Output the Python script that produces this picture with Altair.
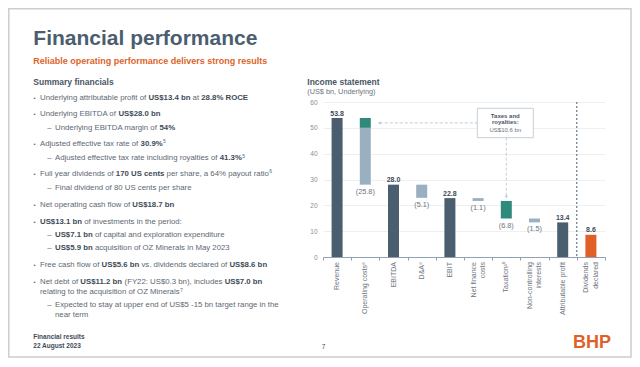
import altair as alt
import pandas as pd

FONT = "Liberation Sans"

# ---------------- chart data ----------------
categories = ["Revenue", "Operating costs", "EBITDA", "D&A", "EBIT",
              "Net finance costs", "Taxation", "Non-controlling interests",
              "Attributable profit", "Dividends declared"]
axis_labels = ["Revenue", "Operating costs⁸", "EBITDA", "D&A⁹", "EBIT",
               "Net finance|costs", "Taxation¹⁰", "Non-controlling|interests",
               "Attributable profit", "Dividends|declared"]
values = [53.8, -25.8, 28.0, -5.1, 22.8, -1.1, -6.8, -1.5, 13.4, 8.6]
kinds = ["total", "cost", "total", "cost", "total", "cost", "tax", "cost", "total", "dividend"]
royalties_in_costs = 3.8
taxes_and_royalties = 10.6
y_ticks = [0, 10, 20, 30, 40, 50, 60]

# ---------------- slide text ----------------
title_text = "Financial performance"
subtitle_text = "Reliable operating performance delivers strong results"
left_heading = "Summary financials"
chart_heading = "Income statement"
chart_subheading = "(US$ bn, Underlying)"
footer_lines = ["Financial results", "22 August 2023"]
page_number = "7"
logo_text = "BHP"
annotation_bold = ["Taxes and", "royalties:"]
annotation_normal = "US$%.1f bn" % taxes_and_royalties

summary = [
    ("bullet", [("Underlying attributable profit of ", "n"), ("US$13.4 bn", "b"), (" at ", "n"), ("28.8% ROCE", "b")]),
    ("bullet", [("Underlying EBITDA of ", "n"), ("US$28.0 bn", "b")]),
    ("dash", [("Underlying EBITDA margin of ", "n"), ("54%", "b")]),
    ("bullet", [("Adjusted effective tax rate of ", "n"), ("30.9%", "b"), ("5", "s")]),
    ("dash", [("Adjusted effective tax rate including royalties of ", "n"), ("41.3%", "b"), ("5", "s")]),
    ("bullet", [("Full year dividends of ", "n"), ("170 US cents", "b"), (" per share, a 64% payout ratio", "n"), ("6", "s")]),
    ("dash", [("Final dividend of 80 US cents per share", "n")]),
    ("bullet", [("Net operating cash flow of ", "n"), ("US$18.7 bn", "b")]),
    ("bullet", [("US$13.1 bn", "b"), (" of investments in the period:", "n")]),
    ("dash", [("US$7.1 bn", "b"), (" of capital and exploration expenditure", "n")]),
    ("dash", [("US$5.9 bn", "b"), (" acquisition of OZ Minerals in May 2023", "n")]),
    ("bullet", [("Free cash flow of ", "n"), ("US$5.6 bn", "b"), (" vs. dividends declared of ", "n"), ("US$8.6 bn", "b")]),
    ("bullet", [("Net debt of ", "n"), ("US$11.2 bn", "b"), (" (FY22: US$0.3 bn), includes ", "n"), ("US$7.0 bn", "b")]),
    ("cont1", [("relating to the acquisition of OZ Minerals", "n"), ("7", "s")]),
    ("dash", [("Expected to stay at upper end of US$5 -15 bn target range in the", "n")]),
    ("cont2", [("near term", "n")]),
]

# ---------------- layout / style ----------------
X0, Y0 = 323, 102          # page position of the plot area
W, H = 282, 155
SVG_W, SVG_H = 624, 350
PAD = {"left": X0 - 8, "top": Y0 - 8, "right": SVG_W - (X0 - 8) - W, "bottom": SVG_H - (Y0 - 8) - H}

DARK = "#4b5e6f"
LIGHT = "#9ab0c1"
TEAL = "#2f8a7b"
ORANGE = "#e0602a"
TITLE_C = "#4b5e70"
TEXT_C = "#5d6872"
BOLD_C = "#3e4b57"
AXIS_C = "#8fa1b1"

summary_y = [98.3, 114.3, 128.3, 144, 158.3, 174, 187.7, 205, 222, 235, 248,
             264.7, 282, 292.3, 305.3, 315.3]
BODY = 7.8
SUP = 5.0


def _tbl(upper, lower, extra):
    t = {}
    for ch, w in zip("ABCDEFGHIJKLMNOPQRSTUVWXYZ", upper):
        t[ch] = w
    for ch, w in zip("abcdefghijklmnopqrstuvwxyz", lower):
        t[ch] = w
    for d in "0123456789":
        t[d] = 556
    t.update(extra)
    return t


REG = _tbl([667, 667, 722, 722, 667, 611, 778, 722, 278, 500, 667, 556, 833, 722, 778, 667, 778, 722, 667, 611, 722, 667, 944, 667, 667, 611],
           [556, 556, 500, 556, 556, 278, 556, 556, 222, 222, 500, 222, 833, 556, 556, 556, 556, 333, 500, 278, 556, 500, 722, 500, 500, 500],
           {" ": 278, "$": 556, "%": 889, "&": 667, "(": 333, ")": 333, ",": 278, "-": 333, ".": 278, "/": 278, ":": 278, "–": 556})
BOLD = _tbl([722, 722, 722, 722, 667, 611, 778, 722, 278, 556, 722, 611, 833, 722, 778, 667, 778, 722, 667, 611, 722, 667, 944, 667, 667, 611],
            [556, 611, 556, 611, 556, 333, 611, 611, 278, 278, 556, 278, 889, 611, 611, 611, 611, 389, 556, 333, 611, 556, 778, 556, 556, 500],
            {" ": 278, "$": 556, "%": 889, "&": 722, "(": 333, ")": 333, ",": 278, "-": 333, ".": 278, "/": 278, ":": 333, "–": 556})


def text_width(s, bold, size):
    tbl = BOLD if bold else REG
    return sum(tbl.get(c, 556) for c in s) * size / 1000.0


rows = []


def add(px, py, text, style):
    rows.append({"px": px - X0, "py": py - Y0, "text": text, "style": style})


add(33.3, 45, title_text, "title")
add(33.3, 60.7, subtitle_text, "subtitle")
add(33.3, 82.3, left_heading, "heading")
add(307.3, 82.3, chart_heading, "heading")
add(307.3, 92.3, chart_subheading, "subheading")
add(33.3, 336.7, footer_lines[0], "footer")
add(33.3, 345.7, footer_lines[1], "footer")
add(321.7, 346.5, page_number, "pagenum")
add(592, 348.3, logo_text, "logo")

for (kind, segs), y in zip(summary, summary_y):
    if kind == "bullet":
        add(34.6, y, "•", "bullet")
        x = 40.0
    elif kind == "dash":
        add(47.3, y, "–", "body")
        x = 55.0
    elif kind == "cont1":
        x = 40.0
    else:
        x = 55.0
    for text, st in segs:
        if st == "s":
            add(x + 0.3, y - 2.8, text, "sup")
            x += text_width(text, False, SUP) + 0.3
            continue
        bold = st == "b"
        stripped = text.lstrip(" ")
        x += (len(text) - len(stripped)) * 278 * BODY / 1000.0
        add(x, y, stripped.rstrip(" "), "bold" if bold else "body")
        x += text_width(stripped, bold, BODY)

# ---------------- waterfall table ----------------
bar_rows, label_rows = [], []
running = 0.0
for lab, v, k in zip(axis_labels, values, kinds):
    if k in ("total", "dividend"):
        lo, hi = 0.0, v
        running = v
        label_rows.append({"label": lab, "y": hi, "text": "%.1f" % v, "pos": "above"})
    else:
        hi = running
        lo = running + v
        running = lo
        label_rows.append({"label": lab, "y": lo, "text": "(%.1f)" % (-v), "pos": "below"})
    if lab == axis_labels[1]:
        bar_rows.append({"label": lab, "lo": lo, "hi": hi - royalties_in_costs, "kind": "cost"})
        bar_rows.append({"label": lab, "lo": hi - royalties_in_costs, "hi": hi, "kind": "tax"})
    else:
        bar_rows.append({"label": lab, "lo": lo, "hi": hi, "kind": k})
bars_df = pd.DataFrame(bar_rows)
labels_df = pd.DataFrame(label_rows)

step = W / len(axis_labels)


def sx(i):
    return (i + 0.5) * step


def sy(v):
    return H * (1 - v / 60.0)


# category labels under the axis (rotated, multi-line centred on the band)
LINE_H = 9.2
for i, lab in enumerate(axis_labels):
    parts = lab.split("|")
    n = len(parts)
    for j, part in enumerate(parts):
        add(X0 + sx(i) + (j - (n - 1) / 2.0) * LINE_H, Y0 + H + 5, part, "xlab")

# annotation box geometry (plot px)
tax_i = kinds.index("tax")
box_cx = sx(tax_i) - 1
box_l, box_r = box_cx - 28, box_cx + 28
box_t, box_b = 6.3, 35.7
add(box_cx + X0, 115.5, annotation_bold[0], "annot_b")
add(box_cx + X0, 121.8, annotation_bold[1], "annot_b")
add(box_cx + X0, 130.0, annotation_normal, "annot_n")
text_df = pd.DataFrame(rows)

opc_top = values[0]
arrow_y = sy(opc_top - royalties_in_costs / 2)
arrow_x = sx(1) + 5.5 + 7
tax_top = label_rows[tax_i]["y"] - values[tax_i]
tax_top_px = sy(tax_top)

# ---------------- chart ----------------
x_scale = alt.Scale(domain=axis_labels, paddingInner=0, paddingOuter=0)
x_axis = alt.Axis(title=None, labels=False, tickBand="extent",
                  tickSize=3, tickColor=AXIS_C, domainColor=AXIS_C, domainWidth=1, grid=False)
y_scale = alt.Scale(domain=[0, 60], nice=False)
y_axis = alt.Axis(title=None, values=y_ticks, domain=False, ticks=False, labelFont=FONT,
                  labelFontSize=6.5, labelColor="#8a8f94", gridColor="#e8ecef", gridWidth=0.8,
                  labelPadding=6)
x_enc = alt.X("label:N", scale=x_scale, axis=x_axis)

bars = alt.Chart(bars_df).mark_bar(size=11).encode(
    x=x_enc,
    y=alt.Y("lo:Q", scale=y_scale, axis=y_axis),
    y2="hi:Q",
    color=alt.Color("kind:N", scale=alt.Scale(domain=["total", "cost", "tax", "dividend"],
                                               range=[DARK, LIGHT, TEAL, ORANGE]), legend=None),
)
above = alt.Chart(labels_df).transform_filter(alt.datum.pos == "above").mark_text(
    font=FONT, fontSize=7, fontWeight="bold", color=BOLD_C, baseline="alphabetic", dy=-2.5
).encode(x=x_enc, y=alt.Y("y:Q", scale=y_scale, axis=y_axis), text="text:N")
below = alt.Chart(labels_df).transform_filter(alt.datum.pos == "below").mark_text(
    font=FONT, fontSize=7.3, color="#6b747d", baseline="alphabetic", dy=9
).encode(x=x_enc, y=alt.Y("y:Q", scale=y_scale, axis=y_axis), text="text:N")
divider = alt.Chart(pd.DataFrame({"label": [axis_labels[-1]]})).mark_rule(
    strokeDash=[2, 2], color=DARK, strokeWidth=1
).encode(x=alt.X("label:N", scale=x_scale, axis=x_axis, bandPosition=0),
         y=alt.value(0), y2=alt.value(H))

inner = alt.layer(bars, above, below, divider)

frame = alt.Chart(pd.DataFrame({"k": [0]})).mark_rect(
    fill="white", fillOpacity=0, stroke="#cdcdcd", strokeWidth=1.5
).encode(x=alt.value(-X0 + 8 + 0.8), x2=alt.value(631 - X0), y=alt.value(-Y0 + 8 + 0.8),
         y2=alt.value(SVG_H + 8 - 1 - Y0))

box = alt.Chart(pd.DataFrame({"k": [0]})).mark_rect(
    fill="white", stroke="#c6d0d9", strokeWidth=1
).encode(x=alt.value(box_l), x2=alt.value(box_r), y=alt.value(box_t), y2=alt.value(box_b))
h_arrow = alt.Chart(pd.DataFrame({"k": [0]})).mark_rule(
    strokeDash=[3, 2], color="#c3ccd4", strokeWidth=1
).encode(x=alt.value(arrow_x + 2), x2=alt.value(box_l), y=alt.value(arrow_y))
h_head = alt.Chart(pd.DataFrame({"k": [0]})).mark_point(
    shape="triangle-left", filled=True, size=12, color="#c3ccd4", opacity=1
).encode(x=alt.value(arrow_x + 1.5), y=alt.value(arrow_y))
v_arrow = alt.Chart(pd.DataFrame({"k": [0]})).mark_rule(
    strokeDash=[3, 2], color="#c3ccd4", strokeWidth=1
).encode(x=alt.value(sx(tax_i)), y=alt.value(box_b), y2=alt.value(tax_top_px - 4))
v_head = alt.Chart(pd.DataFrame({"k": [0]})).mark_point(
    shape="triangle-down", filled=True, size=12, color="#c3ccd4", opacity=1
).encode(x=alt.value(sx(tax_i)), y=alt.value(tax_top_px - 4))

styles = {
    "title": dict(fontSize=21, fontWeight="bold", color=TITLE_C, baseline="alphabetic", align="left"),
    "subtitle": dict(fontSize=9, fontWeight="bold", color="#dd6427", baseline="middle", align="left"),
    "heading": dict(fontSize=8.5, fontWeight="bold", color="#4a5763", baseline="middle", align="left"),
    "subheading": dict(fontSize=7.3, color="#6b747d", baseline="middle", align="left"),
    "footer": dict(fontSize=6.5, fontWeight="bold", color=BOLD_C, baseline="middle", align="left"),
    "pagenum": dict(fontSize=6.5, color=BOLD_C, baseline="middle", align="left"),
    "logo": dict(fontSize=18, fontWeight="bold", color="#e0602a", baseline="alphabetic", align="center"),
    "bullet": dict(fontSize=6, color=TEXT_C, baseline="middle", align="center"),
    "body": dict(fontSize=BODY, color=TEXT_C, baseline="middle", align="left"),
    "bold": dict(fontSize=BODY, fontWeight="bold", color=BOLD_C, baseline="middle", align="left"),
    "sup": dict(fontSize=SUP, color=TEXT_C, baseline="middle", align="left"),
    "annot_b": dict(fontSize=6, fontWeight="bold", color="#4a5763", baseline="middle", align="center"),
    "annot_n": dict(fontSize=6, color="#6b747d", baseline="middle", align="center"),
    "xlab": dict(fontSize=7, color="#6b747d", baseline="middle", align="right", angle=270),
}

text_layers = []
for st, props in styles.items():
    text_layers.append(
        alt.Chart(text_df).transform_filter(alt.datum.style == st).mark_text(font=FONT, **props).encode(
            x=alt.X("px:Q", scale=None, axis=None),
            y=alt.Y("py:Q", scale=None, axis=None),
            text="text:N",
        )
    )

chart = alt.layer(
    frame, inner, box, h_arrow, h_head, v_arrow, v_head, *text_layers
).resolve_scale(x="independent", y="independent").properties(
    width=W, height=H, padding=PAD, autosize=alt.AutoSizeParams(type="none"),
    background="white",
).configure_view(stroke=None)

chart.save("out.html", embed_options={"renderer": "svg", "actions": False})
